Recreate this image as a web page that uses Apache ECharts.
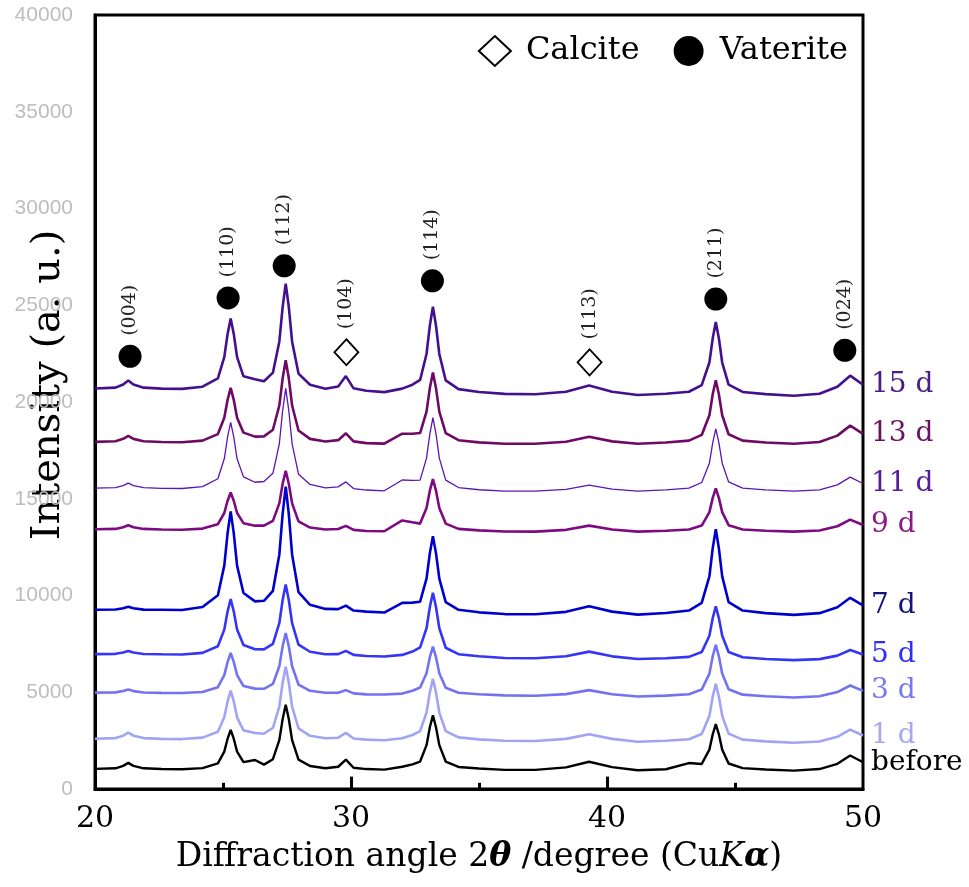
<!DOCTYPE html>
<html>
<head>
<meta charset="utf-8">
<title>XRD</title>
<script src="https://cdn.jsdelivr.net/npm/echarts@6/dist/echarts.min.js"></script>
<style>
  html, body { margin: 0; padding: 0; background: #fff; }
  #xrdChart { width: 969px; height: 887px; }
</style>
</head>
<body>
<div id="xrdChart"></div>
<script>
// 2theta positions (degree), shared by every pattern
var twoTheta = [20.0, 20.8, 21.1, 21.3, 21.5, 21.9, 22.6, 23.4, 24.2, 24.8, 25.05, 25.18, 25.3, 25.42, 25.55, 25.8, 26.25, 26.6, 26.95, 27.2, 27.33, 27.45, 27.57, 27.7, 27.95, 28.4, 29.0, 29.5, 29.8, 30.1, 30.6, 31.3, 32.0, 32.4, 32.7, 32.95, 33.08, 33.2, 33.32, 33.45, 33.7, 34.2, 35.0, 36.0, 37.2, 38.4, 39.3, 40.2, 41.2, 42.3, 43.2, 43.7, 44.0, 44.13, 44.25, 44.37, 44.5, 44.75, 45.3, 46.2, 47.3, 48.3, 49.0, 49.5, 50.0]

// intensities (offset patterns)
var before = [1040, 1070, 1195, 1350, 1195, 1070, 1030, 1020, 1080, 1325, 1930, 2600, 3050, 2600, 1930, 1390, 1500, 1260, 1540, 2520, 3620, 4350, 3620, 2520, 1520, 1190, 1070, 1150, 1520, 1100, 1030, 1000, 1150, 1270, 1420, 2265, 3190, 3810, 3190, 2265, 1420, 1140, 1060, 990, 990, 1120, 1410, 1130, 970, 1020, 1340, 1295, 2035, 2824, 3350, 2824, 2035, 1318, 1080, 1010, 950, 1030, 1300, 1730, 1380]
var day1 = [2600, 2630, 2755, 2910, 2755, 2630, 2590, 2580, 2655, 2955, 3705, 4530, 5080, 4530, 3705, 3030, 2890, 2855, 3165, 4263, 5497, 6320, 5500, 4260, 3130, 2750, 2625, 2650, 2900, 2610, 2550, 2520, 2620, 2790, 2995, 3946, 4993, 5690, 4990, 3950, 2995, 2670, 2563, 2490, 2480, 2590, 2830, 2590, 2440, 2490, 2570, 2843, 3779, 4776, 5440, 4776, 3779, 2863, 2551, 2460, 2390, 2458, 2696, 3070, 2764]
var day3 = [4980, 4995, 5060, 5140, 5060, 4990, 4970, 4960, 5012, 5262, 5886, 6572, 7030, 6572, 5886, 5324, 5187, 5179, 5429, 6344, 7374, 8060, 7374, 6344, 5398, 5076, 4972, 4973, 5110, 4942, 4890, 4880, 4930, 5075, 5245, 5985, 6810, 7360, 6810, 5985, 5235, 4975, 4900, 4840, 4820, 4903, 5110, 4898, 4780, 4824, 4895, 5138, 5965, 6856, 7450, 6856, 5965, 5155, 4875, 4794, 4730, 4792, 5009, 5350, 5071]
var day5 = [6970, 6985, 7050, 7130, 7050, 6980, 6960, 6950, 7036, 7379, 8237, 9181, 9810, 9181, 8237, 7442, 7223, 7215, 7505, 8568, 9769, 10570, 9769, 8568, 7466, 7092, 6963, 6968, 7140, 6932, 6870, 6850, 6930, 7103, 7320, 8309, 9407, 10140, 9407, 8309, 7300, 6967, 6857, 6770, 6760, 6858, 7100, 6856, 6720, 6755, 6828, 7076, 7922, 8833, 9440, 8833, 7922, 7084, 6808, 6715, 6660, 6712, 6894, 7180, 6946]
var day7 = [9260, 9275, 9340, 9420, 9340, 9270, 9260, 9250, 9403, 10015, 11545, 13228, 14350, 13228, 11545, 10133, 9696, 9726, 10241, 12110, 14222, 15630, 14222, 12110, 10180, 9520, 9308, 9296, 9480, 9222, 9166, 9120, 9620, 9630, 9680, 10870, 12190, 13060, 12190, 10870, 9660, 9260, 9130, 9040, 9030, 9156, 9440, 9167, 9010, 9098, 9221, 9619, 10989, 12448, 13420, 12448, 10989, 9663, 9221, 9088, 9000, 9088, 9396, 9880, 9484]
var day9 = [13420, 13441, 13525, 13630, 13525, 13441, 13410, 13400, 13458, 13688, 14264, 14898, 15320, 14898, 14264, 13739, 13609, 13612, 13859, 14761, 15775, 16450, 15775, 14761, 13830, 13513, 13411, 13438, 13600, 13392, 13330, 13320, 13880, 13784, 13715, 14525, 15416, 16010, 15416, 14525, 13715, 13445, 13364, 13310, 13300, 13393, 13610, 13408, 13300, 13345, 13412, 13614, 14308, 15047, 15540, 15047, 14308, 13636, 13412, 13345, 13300, 13362, 13579, 13920, 13641]
var day11 = [15550, 15576, 15680, 15810, 15680, 15576, 15540, 15530, 15623, 16035, 17064, 18195, 18950, 18195, 17064, 16129, 15853, 15891, 16314, 17840, 19556, 20700, 19556, 17840, 16270, 15740, 15564, 15612, 15870, 15524, 15451, 15410, 15970, 15951, 15960, 17100, 18354, 19190, 18354, 17100, 15960, 15580, 15466, 15390, 15390, 15483, 15700, 15498, 15390, 15454, 15551, 15841, 16839, 17902, 18610, 17902, 16839, 15873, 15551, 15454, 15390, 15463, 15719, 16120, 15790]
var day13 = [17940, 17971, 18095, 18250, 18095, 17971, 17930, 17920, 18004, 18342, 19185, 20112, 20730, 20112, 19185, 18417, 18210, 18222, 18567, 19817, 21223, 22160, 21223, 19817, 18529, 18093, 17955, 18028, 18380, 17964, 17876, 17850, 18360, 18358, 18394, 19501, 20718, 21530, 20718, 19501, 18394, 18025, 17914, 17840, 17840, 17948, 18200, 17966, 17840, 17906, 18004, 18299, 19316, 20398, 21120, 20398, 19316, 18332, 18004, 17906, 17840, 17934, 18263, 18780, 18357]
var day15 = [20700, 20742, 20908, 21116, 20908, 20742, 20690, 20680, 20789, 21226, 22318, 23519, 24320, 23519, 22318, 21325, 21180, 21071, 21515, 23117, 24919, 26120, 24919, 23117, 21469, 20893, 20689, 20798, 21340, 20706, 20579, 20510, 20690, 20893, 21140, 22481, 23947, 24930, 23947, 22481, 21120, 20664, 20519, 20420, 20400, 20531, 20850, 20534, 20360, 20426, 20530, 20872, 22040, 23294, 24130, 23294, 22040, 20900, 20520, 20406, 20320, 20424, 20788, 21360, 20892]

// peak markers
var calciteX = [29.82, 39.32]
var calciteY = [22570, 22050]
var calciteHkl = ['(104)', '(113)']
var vateriteX = [21.37, 25.2, 27.39, 33.18, 44.25, 49.29]
var vateriteY = [22360, 25380, 27040, 26260, 25320, 22670]
var vateriteHkl = ['(004)', '(110)', '(112)', '(114)', '(211)', '(024)']

var xTicks = [20, 30, 40, 50]
var xMajorInner = [30, 40]
var xMinor = [25, 35, 45]
var yTicks = [0, 5000, 10000, 15000, 20000, 25000, 30000, 35000, 40000]

var serif = 'DejaVu Serif'

var patterns = [
  { name: 'before', data: before, line: '#000000', label: '#000000', width: 2.4 },
  { name: '1 d', data: day1, line: '#a3a3f5', label: '#a8a8ee', width: 2.6 },
  { name: '3 d', data: day3, line: '#7373f2', label: '#7878f0', width: 2.6 },
  { name: '5 d', data: day5, line: '#3535f5', label: '#2f2ff5', width: 2.6 },
  { name: '7 d', data: day7, line: '#0000cc', label: '#141478', width: 2.6 },
  { name: '9 d', data: day9, line: '#7d0a80', label: '#8a1a8a', width: 2.6 },
  { name: '11 d', data: day11, line: '#5c14b4', label: '#581c98', width: 1.3 },
  { name: '13 d', data: day13, line: '#6e0a64', label: '#6a1262', width: 2.6 },
  { name: '15 d', data: day15, line: '#44108e', label: '#4a1c88', width: 2.6 }
]

function zip(xs, ys, extra) {
  return xs.map(function (x, i) {
    return extra ? [x, ys[i], extra[i]] : [x, ys[i]]
  })
}

// inward tick marks on the x axis (axisTick does not draw here)
function tickPairs(values, len) {
  return values.map(function (v) {
    return [{ coord: [v, yTicks[0]] }, { coord: [v, len] }]
  })
}

var series = patterns.map(function (p) {
  return {
    name: p.name,
    type: 'line',
    data: zip(twoTheta, p.data),
    showSymbol: false,
    symbol: 'none',
    lineStyle: { color: p.line, width: p.width },
    itemStyle: { color: p.line },
    endLabel: {
      show: true,
      formatter: '{a}',
      color: p.label,
      fontFamily: serif,
      fontSize: 28,
      distance: 8
    },
    z: 2
  }
})

series[0].markLine = {
  silent: true,
  symbol: ['none', 'none'],
  label: { show: false },
  lineStyle: { color: '#000', width: 3, type: 'solid' },
  data: tickPairs(xMajorInner, 640).concat(tickPairs(xMinor, 320)),
  z: 10
}

function markerLabel() {
  return {
    show: true,
    formatter: function (p) { return p.value[2] },
    position: 'top',
    rotate: 90,
    align: 'left',
    verticalAlign: 'middle',
    distance: 9,
    color: '#222',
    fontFamily: serif,
    fontSize: 19
  }
}

series.push({
  name: 'Calcite',
  type: 'scatter',
  symbol: 'diamond',
  symbolSize: [24, 26],
  data: zip(calciteX, calciteY, calciteHkl),
  itemStyle: { color: '#ffffff', borderColor: '#000000', borderWidth: 1.8, opacity: 1 },
  label: markerLabel(),
  z: 5
})
series.push({
  name: 'Vaterite',
  type: 'scatter',
  symbol: 'circle',
  symbolSize: 23,
  data: zip(vateriteX, vateriteY, vateriteHkl),
  itemStyle: { color: '#000000', opacity: 1 },
  label: markerLabel(),
  z: 5
})

var xrdChart = echarts.init(document.getElementById('xrdChart'))
xrdChart.setOption({
  animation: false,
  backgroundColor: '#ffffff',
  grid: {
    left: 95,
    right: 106,
    top: 15,
    bottom: 98,
    outerBoundsMode: 'none',
    containLabel: false,
    show: true,
    borderColor: '#000000',
    borderWidth: 3,
    backgroundColor: 'transparent'
  },
  legend: {
    data: ['Calcite', 'Vaterite'],
    right: 116,
    top: 30,
    itemWidth: 32,
    itemHeight: 30,
    itemGap: 34,
    textStyle: { fontFamily: serif, fontSize: 32, color: '#000', padding: [0, 0, 0, 10] },
    selectedMode: false
  },
  xAxis: {
    type: 'value',
    position: 'bottom',
    min: xTicks[0],
    max: xTicks[xTicks.length - 1],
    interval: 10,
    axisLine: { show: true, onZero: false, lineStyle: { color: '#000', width: 3 } },
    axisTick: { show: false },
    splitLine: { show: false },
    axisLabel: { color: '#000', fontFamily: serif, fontSize: 30, margin: 15 },
    name: 'Diffraction angle 2{t|θ} /degree (Cu{k|K}{t|α})',
    nameLocation: 'middle',
    nameGap: 52,
    nameMoveOverlap: false,
    nameTextStyle: {
      color: '#000',
      fontFamily: serif,
      fontSize: 33,
      rich: {
        t: { fontFamily: serif, fontSize: 33, fontStyle: 'italic', fontWeight: 'bold', color: '#000' },
        k: { fontFamily: serif, fontSize: 33, fontStyle: 'italic', color: '#000' }
      }
    }
  },
  yAxis: {
    type: 'value',
    min: yTicks[0],
    max: yTicks[yTicks.length - 1],
    interval: 5000,
    axisLine: { show: true, onZero: false, lineStyle: { color: '#000', width: 3 } },
    axisTick: { show: false },
    splitLine: { show: false },
    axisLabel: {
      color: '#bdbdbd',
      fontFamily: 'Liberation Sans',
      fontSize: 21,
      margin: 22,
      formatter: function (v) { return String(v) }
    },
    name: 'Intensity (a. u.)',
    nameLocation: 'middle',
    nameGap: 26,
    nameMoveOverlap: false,
    nameTextStyle: { color: '#000', fontFamily: serif, fontSize: 40, padding: [0, 0, 0, 34] }
  },
  series: series
})
</script>
</body>
</html>
